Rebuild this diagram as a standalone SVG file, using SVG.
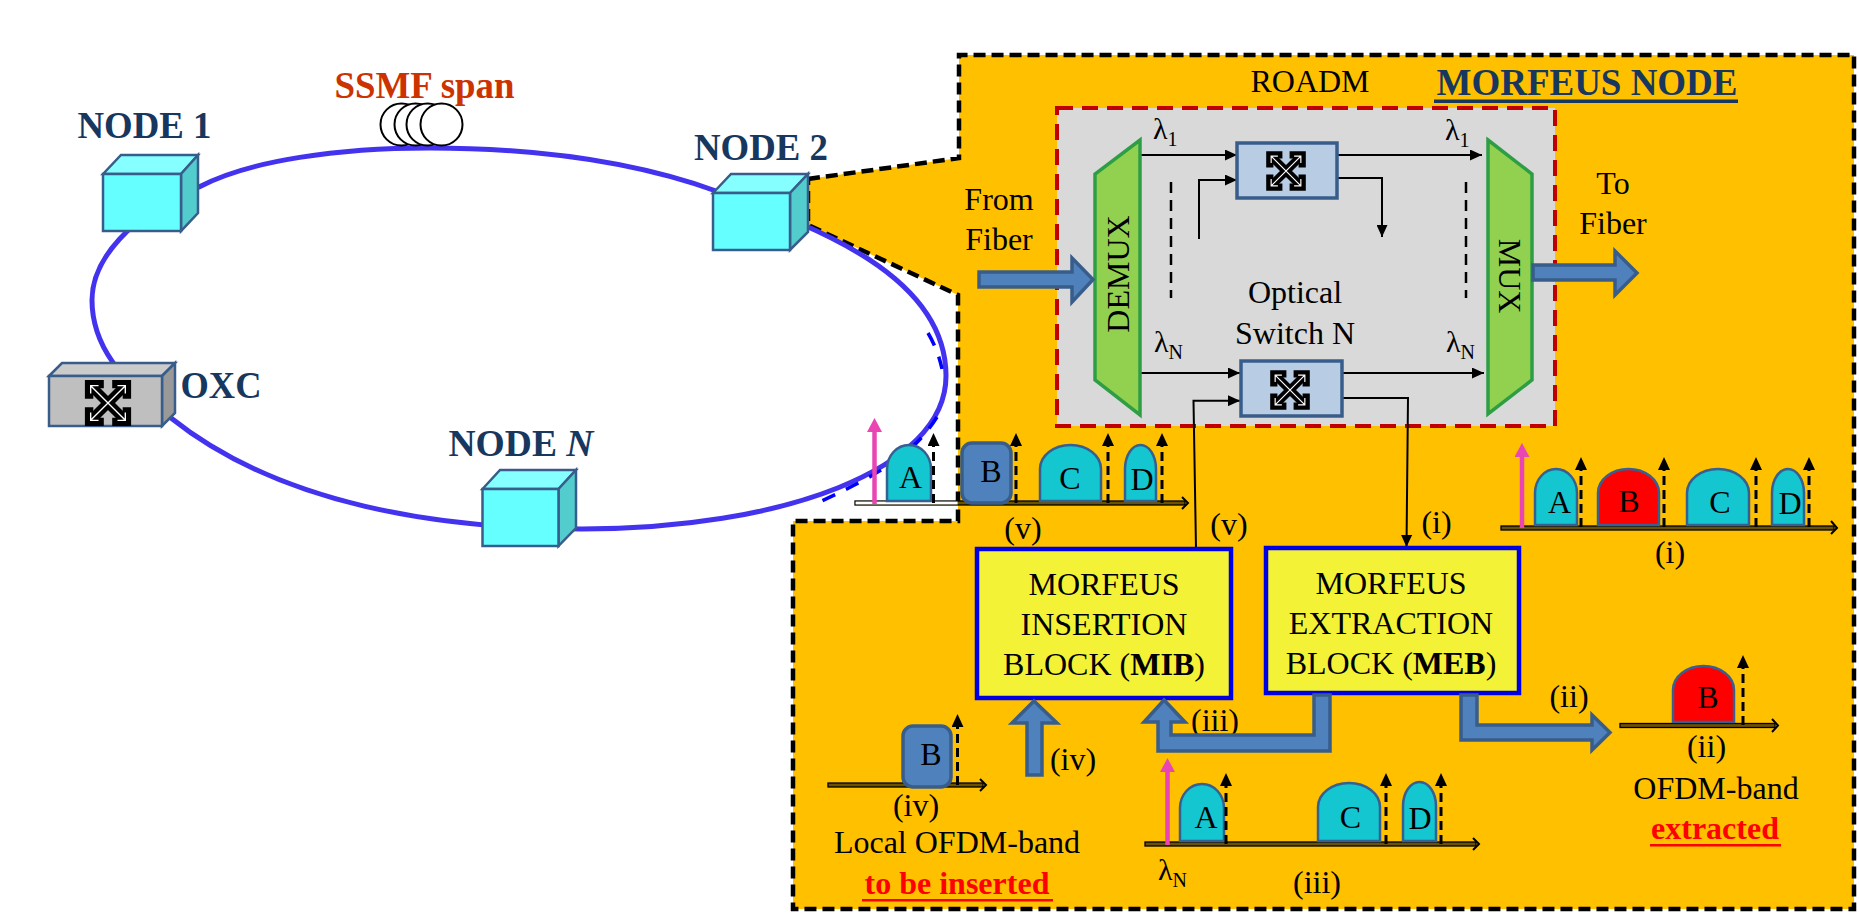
<svg xmlns="http://www.w3.org/2000/svg" width="1859" height="913" viewBox="0 0 1859 913">
<defs>
<style>
text{font-family:"Liberation Serif","Times New Roman",serif;font-size:32px;fill:#000}
.m{text-anchor:middle}
.nl{font-size:38px;font-weight:bold;fill:#17375e}
.red{font-weight:bold;fill:#ff0000}
.cube{stroke:#385d8a;stroke-width:2.5;stroke-linejoin:miter}
.front{fill:#66ffff}.top{fill:#85ffff}.side{fill:#52cccc}
.thin{fill:none;stroke:#000;stroke-width:2;marker-end:url(#ah)}
.vd{stroke:#000;stroke-width:2.5;stroke-dasharray:11 7}
.car{stroke:#000;stroke-width:3;stroke-dasharray:9 5;marker-end:url(#ch)}
.pink{stroke:#e946b4;stroke-width:4.5;marker-end:url(#ph)}
.p{stroke:#376092;stroke-width:2.5}
.cy{fill:#13c6cf}.rd{fill:#ff0000}
.axis{fill:#6b5200;stroke:#000;stroke-width:1.3}
.chev{fill:none;stroke:#000;stroke-width:2}
.blk{fill:#4f81bd;stroke:#385d8a;stroke-width:3.5}
.box{fill:#f4f236;stroke:#0000e0;stroke-width:4.5}
.sw{fill:#b8cce4;stroke:#385d8a;stroke-width:3.5}
.mx{fill:#92d050;stroke:#2e9e45;stroke-width:3.5}
</style>
<marker id="ah" markerUnits="userSpaceOnUse" viewBox="0 0 12 11" refX="12" refY="5.5" markerWidth="12" markerHeight="11" orient="auto"><path d="M0,0L12,5.5L0,11Z" fill="#000"/></marker>
<marker id="ch" markerUnits="userSpaceOnUse" viewBox="0 0 13 12" refX="0" refY="6" markerWidth="13" markerHeight="12" orient="auto"><path d="M0,0L13,6L0,12Z" fill="#000"/></marker>
<marker id="ph" markerUnits="userSpaceOnUse" viewBox="0 0 14 15" refX="0" refY="7.5" markerWidth="14" markerHeight="15" orient="auto"><path d="M0,0L14,7.5L0,15Z" fill="#e946b4"/></marker>
<g id="xsw">
<path d="M-14,-14L14,14M14,-14L-14,14" stroke="#000" stroke-width="9.500" fill="none"/>
<path d="M-18,-4V-18H-4M18,-4V-18H4M-18,4V18H-4M18,4V18H4" stroke="#000" stroke-width="8" fill="none"/>
<path d="M-16.500,-16.500L16.500,16.500M16.500,-16.500L-16.500,16.500M-16.500,-9V-16.500H-9M16.500,-9V-16.500H9M-16.500,9V16.500H-9M16.500,9V16.500H9" stroke="#fff" stroke-width="1.300" fill="none"/>
</g>
</defs>
<rect width="1859" height="913" fill="#fff"/>
<g id="morfeus-region">
<path d="M808,179L959,158V55H1854V909H793V521H958V295L808,225Z" fill="#ffc000" stroke="#000" stroke-width="4.500" stroke-dasharray="12 6"/>
</g>
<g id="fiber-ring">
<path d="M199,187C250,160 340,148 429,148C530,148 630,160 716,191C800,222 946,270 946,376C946,470 780,529 582,529C440,529 280,505 171,418C120,380 92,345 92,300C92,260 130,215 199,187Z" fill="none" stroke="#4433ee" stroke-width="5"/>
<path d="M928,333Q938,350 942,369M937,417C915,452 885,472 815,504" fill="none" stroke="#0000ff" stroke-width="3.500" stroke-dasharray="14 12"/>
</g>
<g id="ssmf-span">
<circle cx="401.500" cy="124.500" r="21" fill="#fff" stroke="#000" stroke-width="2"/>
<circle cx="415.500" cy="124.500" r="21" fill="#fff" stroke="#000" stroke-width="2"/>
<circle cx="427.500" cy="124.500" r="21" fill="#fff" stroke="#000" stroke-width="2"/>
<circle cx="441.500" cy="124.500" r="21" fill="#fff" stroke="#000" stroke-width="2"/>
<text x="424.500" y="98" class="m" style="font-size:38px;font-weight:bold;fill:#cc3300" textLength="180" lengthAdjust="spacingAndGlyphs">SSMF span</text>
</g>
<g id="node-1">
<path class="cube top" d="M103,174L121,155H198L181,174Z"/>
<path class="cube side" d="M181,174L198,155V213L181,231Z"/>
<rect class="cube front" x="103" y="174" width="78" height="57"/>
<text x="144.500" y="138" class="m nl" textLength="134" lengthAdjust="spacingAndGlyphs">NODE 1</text>
</g>
<g id="node-2">
<path class="cube top" d="M713,193L731,174H808L790,193Z"/>
<path class="cube side" d="M790,193L808,174V232L790,250Z"/>
<rect class="cube front" x="713" y="193" width="77" height="57"/>
<text x="761" y="160" class="m nl" textLength="134" lengthAdjust="spacingAndGlyphs">NODE 2</text>
</g>
<g id="node-n">
<path class="cube top" d="M482.500,489L500,470H576L558.500,489Z"/>
<path class="cube side" d="M558.500,489L576,470V528L558.500,546Z"/>
<rect class="cube front" x="482.500" y="489" width="76" height="57"/>
<text x="521" y="456" class="m nl" textLength="145" lengthAdjust="spacingAndGlyphs">NODE <tspan font-style="italic">N</tspan></text>
</g>
<g id="oxc">
<path class="cube" fill="#cbcbcb" d="M49,376L62,363H175L162,376Z"/>
<path class="cube" fill="#999999" d="M162,376L175,363V413L162,426Z"/>
<rect class="cube" fill="#bfbfbf" x="49" y="376" width="113" height="50"/>
<use href="#xsw" transform="translate(108,403) scale(1.050)"/>
<text x="221" y="398" class="m nl" textLength="81" lengthAdjust="spacingAndGlyphs">OXC</text>
</g>
<g id="titles">
<text x="1310" y="92" class="m">ROADM</text>
<text x="1587" y="95" class="m" style="font-size:38px;font-weight:bold;fill:#17375e" textLength="301" lengthAdjust="spacingAndGlyphs">MORFEUS NODE</text>
<rect x="1434" y="99.500" width="304" height="3.500" fill="#17375e"/>
</g>
<g id="roadm">
<rect x="1057" y="108" width="498" height="318" fill="#d9d9d9" stroke="#c00000" stroke-width="4" stroke-dasharray="16 9"/>
</g>
<g id="connectors">
<path class="thin" d="M1140,155H1237"/>
<path class="thin" d="M1338,155H1482"/>
<path class="thin" d="M1199,239V180H1237"/>
<path class="thin" d="M1338,178H1382V237"/>
<path class="thin" d="M1141,373H1240"/>
<path class="thin" d="M1343,373H1484"/>
<path class="thin" d="M1196,549L1193.500,400.700H1240"/>
<path class="thin" d="M1343,398H1408L1406.500,547"/>
<line class="vd" x1="1171" y1="182" x2="1171" y2="298"/>
<line class="vd" x1="1466" y1="182" x2="1466" y2="298"/>
</g>
<g id="demux">
<path class="mx" d="M1140,140V415L1095,380V174Z"/>
<text transform="translate(1129,274) rotate(-90)" class="m">DEMUX</text>
</g>
<g id="mux">
<path class="mx" d="M1488,140L1532,174V380L1488,414Z"/>
<text transform="translate(1499,276) rotate(90)" class="m">MUX</text>
</g>
<g id="switch-1">
<rect class="sw" x="1237" y="143" width="100" height="55"/>
<use href="#xsw" transform="translate(1286,171) scale(0.900)"/>
</g>
<g id="switch-n">
<rect class="sw" x="1241" y="361" width="101" height="55"/>
<use href="#xsw" transform="translate(1290,390) scale(0.900)"/>
</g>
<g id="roadm-labels">
<text x="1153" y="139" style="font-size:30px">λ<tspan dy="7" style="font-size:20px">1</tspan></text>
<text x="1445" y="140" style="font-size:30px">λ<tspan dy="7" style="font-size:20px">1</tspan></text>
<text x="1154" y="352" style="font-size:30px">λ<tspan dy="7" style="font-size:20px">N</tspan></text>
<text x="1446" y="352" style="font-size:30px">λ<tspan dy="7" style="font-size:20px">N</tspan></text>
<text x="1295" y="303" class="m">Optical</text>
<text x="1295" y="344" class="m">Switch N</text>
<text x="999" y="210" class="m">From</text>
<text x="999" y="250" class="m">Fiber</text>
<text x="1613" y="194" class="m">To</text>
<text x="1613" y="234" class="m">Fiber</text>
</g>
<g id="block-arrows-io">
<path class="blk" d="M979,272H1072V258L1093,279.500L1072,302V287H979Z"/>
<path class="blk" d="M1533,265H1615V251L1637,273L1615,295V280H1533Z"/>
</g>
<g id="spectrum-v">
<rect class="axis" x="855" y="501" width="330" height="4"/>
<rect x="855.600" y="501.600" width="102" height="2.800" fill="#fff"/>
<path class="chev" d="M1182,497L1188,503L1182,509"/>
<line class="pink" x1="874.500" y1="504" x2="874.500" y2="432"/>
<path class="p cy" d="M887,501V469A22,24 0 0 1 931,469V501Z"/><text x="910.500" y="488" class="m">A</text>
<line class="car" x1="933.500" y1="503" x2="933.500" y2="446"/>
<line class="car" x1="1016" y1="503" x2="1016" y2="446"/>
<path class="p cy" d="M1040,501V469A30.500,24 0 0 1 1101,469V501Z"/><text x="1070" y="489" class="m">C</text>
<line class="car" x1="1108" y1="503" x2="1108" y2="446"/>
<path class="p cy" d="M1125,501V469A15.500,24 0 0 1 1156,469V501Z"/><text x="1142" y="490" class="m">D</text>
<line class="car" x1="1162" y1="503" x2="1162" y2="446"/>
<rect x="962" y="443" width="49" height="60" rx="10" class="blk"/><text x="991" y="482" class="m">B</text>
</g>
<g id="spectrum-i">
<rect class="axis" x="1501" y="526" width="333" height="4"/>
<path class="chev" d="M1831,521L1837,528L1831,534"/>
<line class="pink" x1="1522" y1="528" x2="1522" y2="457"/>
<path class="p cy" d="M1535,525V493A21,24 0 0 1 1577,493V525Z"/><text x="1559.500" y="513" class="m">A</text>
<line class="car" x1="1581" y1="527" x2="1581" y2="470"/>
<path class="p rd" d="M1598,525V493A30.500,24 0 0 1 1659,493V525Z"/><text x="1629" y="512" class="m">B</text>
<line class="car" x1="1664" y1="527" x2="1664" y2="470"/>
<path class="p cy" d="M1687,525V493A31,24 0 0 1 1749,493V525Z"/><text x="1720" y="513" class="m">C</text>
<line class="car" x1="1756" y1="527" x2="1756" y2="470"/>
<path class="p cy" d="M1772,525V493A16,24 0 0 1 1804,493V525Z"/><text x="1790" y="514" class="m">D</text>
<line class="car" x1="1809" y1="527" x2="1809" y2="470"/>
</g>
<g id="spectrum-ii">
<rect class="axis" x="1620" y="723.500" width="155" height="4"/>
<path class="chev" d="M1772,719L1778,725.500L1772,732"/>
<path class="p rd" d="M1673,722V690A30.500,24 0 0 1 1734,690V722Z"/><text x="1708" y="708" class="m">B</text>
<line class="car" x1="1743" y1="725" x2="1743" y2="668"/>
</g>
<g id="spectrum-iv">
<rect class="axis" x="828" y="783" width="155" height="4"/>
<path class="chev" d="M980,779L986,785L980,791"/>
<line class="car" x1="957.500" y1="785" x2="957.500" y2="727"/>
<rect x="903" y="726" width="48" height="61" rx="10" class="blk"/><text x="931" y="765" class="m">B</text>
</g>
<g id="spectrum-iii">
<rect class="axis" x="1145" y="842" width="331" height="4"/>
<path class="chev" d="M1473,838L1479,844L1473,850"/>
<line class="pink" x1="1167.500" y1="845" x2="1167.500" y2="772"/>
<path class="p cy" d="M1180,841V808A22,24 0 0 1 1224,808V841Z"/><text x="1206" y="828" class="m">A</text>
<line class="car" x1="1226" y1="844" x2="1226" y2="786"/>
<path class="p cy" d="M1318,841V807A31,24 0 0 1 1380,807V841Z"/><text x="1350.500" y="828" class="m">C</text>
<line class="car" x1="1386" y1="844" x2="1386" y2="786"/>
<path class="p cy" d="M1403,841V806A16.500,24 0 0 1 1436,806V841Z"/><text x="1420" y="829" class="m">D</text>
<line class="car" x1="1441" y1="844" x2="1441" y2="786"/>
</g>
<g id="roman-labels">
<text x="1023" y="539" class="m">(v)</text>
<text x="1229" y="535" class="m">(v)</text>
<text x="1215" y="731" class="m">(iii)</text>
<text x="1073" y="770" class="m">(iv)</text>
<text x="916" y="816" class="m">(iv)</text>
<text x="1317" y="893" class="m">(iii)</text>
<text x="1436.500" y="533" class="m">(i)</text>
<text x="1670" y="563" class="m">(i)</text>
<text x="1569" y="707" class="m">(ii)</text>
<text x="1706.500" y="757" class="m">(ii)</text>
<text x="1158" y="880" style="font-size:30px">λ<tspan dy="7" style="font-size:20px">N</tspan></text>
</g>
<g id="captions">
<text x="957" y="853" class="m">Local OFDM-band</text>
<text x="957" y="894" class="m red">to be inserted</text>
<rect x="862" y="899" width="191" height="2.500" fill="#ff0000"/>
<text x="1716" y="799" class="m">OFDM-band</text>
<text x="1715" y="839" class="m red">extracted</text>
<rect x="1650" y="844" width="131" height="2.500" fill="#ff0000"/>
</g>
<g id="mib">
<rect class="box" x="977" y="549" width="254" height="149"/>
<text x="1104" y="595" class="m">MORFEUS</text>
<text x="1104" y="635" class="m">INSERTION</text>
<text x="1104" y="675" class="m">BLOCK (<tspan font-weight="bold">MIB</tspan>)</text>
</g>
<g id="meb">
<rect class="box" x="1266" y="548" width="253" height="145"/>
<text x="1391" y="594" class="m">MORFEUS</text>
<text x="1391" y="634" class="m">EXTRACTION</text>
<text x="1391" y="674" class="m">BLOCK (<tspan font-weight="bold">MEB</tspan>)</text>
</g>
<g id="block-arrows">
<path class="blk" d="M1034,701L1057,723H1042V775H1027V723H1012Z"/>
<path class="blk" d="M1164,700L1185,722H1171V735H1314V695H1330V751H1158V722H1144Z"/>
<path class="blk" d="M1461,695H1477V725H1592V715L1610,732.500L1592,750V740H1461Z"/>
</g>
</svg>
